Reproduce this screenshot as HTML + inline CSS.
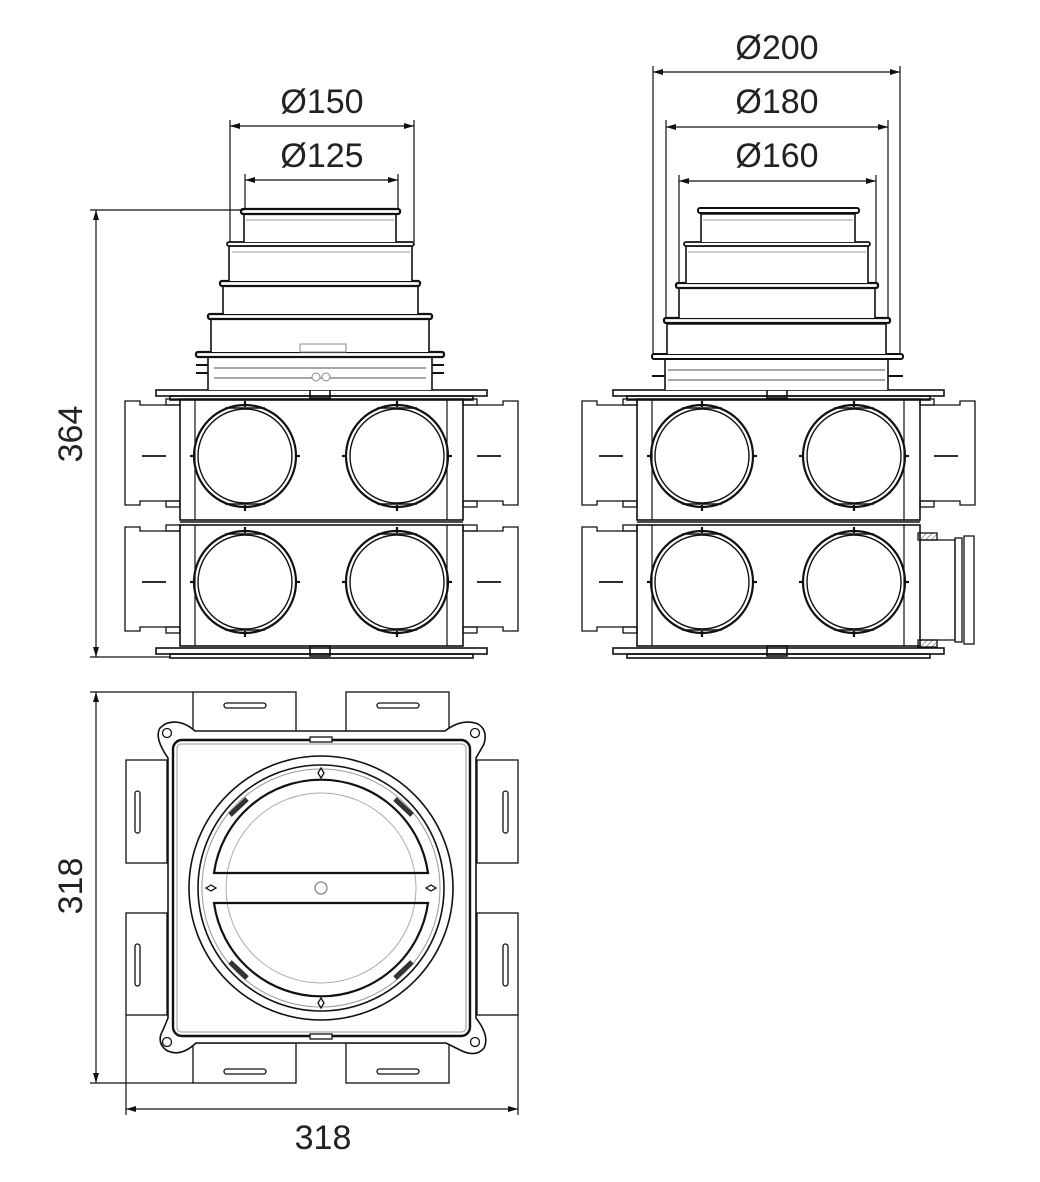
<!DOCTYPE html>
<html><head><meta charset="utf-8"><style>
html,body{margin:0;padding:0;background:#fff}
svg{display:block}
text{font-family:"Liberation Sans","DejaVu Sans",sans-serif;font-size:34px;fill:#222}
</style></head><body>
<svg width="1040" height="1182" viewBox="0 0 1040 1182" xmlns="http://www.w3.org/2000/svg">
<defs>
<marker id="a" viewBox="0 0 10 6" refX="10" refY="3" markerWidth="10" markerHeight="6" orient="auto-start-reverse" markerUnits="userSpaceOnUse"><path d="M0,0L10,3L0,6z" fill="#111"/></marker>
<pattern id="h" width="4" height="4" patternUnits="userSpaceOnUse" patternTransform="rotate(45)"><line x1="0" y1="0" x2="0" y2="4" stroke="#444" stroke-width="1"/></pattern>
<g id="row" fill="none" stroke="#111">
  <rect x="0" y="0" width="283" height="121" stroke-width="1.6"/>
  <line x1="15" y1="0" x2="15" y2="121" stroke-width="1.2"/>
  <line x1="267" y1="0" x2="267" y2="121" stroke-width="1.2"/>
  <circle cx="65" cy="57" r="51" stroke-width="2.2"/>
  <circle cx="65" cy="57" r="47" stroke-width="1.4"/>
  <circle cx="217" cy="57" r="51" stroke-width="2.2"/>
  <circle cx="217" cy="57" r="47" stroke-width="1.4"/>
  <g stroke-width="2.2">
  <line x1="65" y1="2" x2="65" y2="8"/><line x1="65" y1="106" x2="65" y2="112"/>
  <line x1="217" y1="2" x2="217" y2="8"/><line x1="217" y1="106" x2="217" y2="112"/>
  <line x1="10" y1="57" x2="14" y2="57"/><line x1="116" y1="57" x2="120" y2="57"/>
  <line x1="162" y1="57" x2="166" y2="57"/><line x1="268" y1="57" x2="272" y2="57"/>
  </g>
  <line x1="45" y1="9" x2="85" y2="9" stroke-width="1.6"/><line x1="45" y1="105" x2="85" y2="105" stroke-width="1.6"/>
  <line x1="197" y1="9" x2="237" y2="9" stroke-width="1.6"/><line x1="197" y1="105" x2="237" y2="105" stroke-width="1.6"/>
</g>
<g id="lsp" fill="none" stroke="#111" stroke-width="1.3">
  <path d="M0,6 H-40 V2 H-55 V106 H-40 V102 H0"/>
  <line x1="-38" y1="57" x2="-14" y2="57" stroke-width="1.8"/>
  <rect x="-14" y="0" width="14" height="6"/><rect x="-14" y="102" width="14" height="6"/>
</g>
<g id="rsp" fill="none" stroke="#111" stroke-width="1.3">
  <path d="M283,6 H323 V2 H338 V106 H323 V102 H283"/>
  <line x1="297" y1="57" x2="321" y2="57" stroke-width="1.8"/>
  <rect x="283" y="0" width="14" height="6"/><rect x="283" y="102" width="14" height="6"/>
</g>
<g id="plate" fill="none" stroke="#111" stroke-width="1.6">
  <rect x="-24" y="0" width="331" height="6"/>
  <rect x="-10" y="6" width="303" height="4"/>
  <rect x="130" y="-2" width="20" height="10"/>
</g>
</defs>

<!-- LEFT FRONT VIEW -->
<g transform="translate(180,399)"><use href="#row"/><use href="#lsp"/><use href="#rsp"/></g>
<g transform="translate(180,525)"><use href="#row"/><use href="#lsp"/><use href="#rsp"/></g>
<g transform="translate(180,390)"><use href="#plate"/></g>
<g transform="translate(180,648)"><use href="#plate"/></g>
<line x1="180" y1="522" x2="463" y2="522" stroke="#111" stroke-width="1.6"/>
<g fill="#fff" stroke="#111">
  <path d="M208,390 V356 H432 V390" stroke-width="1.6"/>
  <rect x="196" y="352" width="248" height="5" rx="2" stroke-width="2.2"/>
  <line x1="214" y1="368" x2="426" y2="368" stroke="#888" stroke-width="1.5"/>
  <line x1="214" y1="378" x2="426" y2="378" stroke="#888" stroke-width="1.5"/>
  <line x1="196" y1="365" x2="208" y2="365" stroke-width="2"/><line x1="432" y1="365" x2="444" y2="365" stroke-width="2"/>
  <line x1="196" y1="373" x2="208" y2="373" stroke-width="2"/><line x1="432" y1="373" x2="444" y2="373" stroke-width="2"/>
  <circle cx="316" cy="377" r="4" stroke="#888"/><circle cx="326" cy="377" r="4" stroke="#888"/>
  <path d="M211,352 V318 H429 V352" stroke-width="1.6"/>
  <rect x="208" y="314" width="224" height="5" rx="2" stroke-width="2.2"/>
  <rect x="300" y="344" width="46" height="8" stroke="#888"/>
  <path d="M223,314 V285 H418 V314" stroke-width="1.6"/>
  <rect x="220" y="281" width="200" height="5" rx="2" stroke-width="2.2"/>
  <path d="M229,281 V246 H412 V281" stroke-width="1.6"/>
  <rect x="227" y="242" width="187" height="4" rx="2" stroke-width="1.8"/>
  <line x1="232" y1="252" x2="410" y2="252" stroke="#999"/>
  <path d="M244,242 V214 H396 V242" stroke-width="1.6"/>
  <rect x="241" y="209" width="159" height="5" rx="2" stroke-width="2.2"/>
  <line x1="246" y1="220" x2="394" y2="220" stroke="#999"/>
</g>
<!-- left dims -->
<g stroke="#111" stroke-width="1.2" fill="none">
  <line x1="230" y1="120" x2="230" y2="242"/><line x1="414" y1="120" x2="414" y2="242"/>
  <line x1="230" y1="126" x2="414" y2="126" marker-start="url(#a)" marker-end="url(#a)"/>
  <line x1="245" y1="174" x2="245" y2="210"/><line x1="398" y1="174" x2="398" y2="210"/>
  <line x1="245" y1="180" x2="398" y2="180" marker-start="url(#a)" marker-end="url(#a)"/>
  <line x1="90" y1="210" x2="244" y2="210"/><line x1="90" y1="657" x2="170" y2="657"/>
  <line x1="96" y1="210" x2="96" y2="657" marker-start="url(#a)" marker-end="url(#a)"/>
</g>
<text x="322" y="113" text-anchor="middle">Ø150</text>
<text x="322" y="167" text-anchor="middle">Ø125</text>
<text transform="translate(82,434) rotate(-90)" text-anchor="middle">364</text>

<!-- RIGHT FRONT VIEW -->
<g transform="translate(637,399)"><use href="#row"/><use href="#lsp"/><use href="#rsp"/></g>
<g transform="translate(637,525)"><use href="#row"/><use href="#lsp"/></g>
<g transform="translate(637,390)"><use href="#plate"/></g>
<g transform="translate(637,648)"><use href="#plate"/></g>
<line x1="637" y1="522" x2="920" y2="522" stroke="#111" stroke-width="1.6"/>
<g fill="none" stroke="#111" stroke-width="1.3">
  <rect x="918" y="533" width="19" height="7" fill="url(#h)"/>
  <rect x="918" y="640" width="19" height="7" fill="url(#h)"/>
  <path d="M920,540 H955 V640 H920"/>
  <rect x="955" y="538" width="7" height="104"/>
  <rect x="964" y="536" width="10" height="108"/>
</g>
<g fill="#fff" stroke="#111">
  <path d="M665,390 V358 H888 V390" stroke-width="1.6"/>
  <rect x="652" y="354" width="251" height="5" rx="2" stroke-width="2"/>
  <line x1="668" y1="370" x2="885" y2="370" stroke="#888" stroke-width="1.5"/>
  <line x1="668" y1="380" x2="885" y2="380" stroke="#888" stroke-width="1.5"/>
  <line x1="652" y1="376" x2="665" y2="376" stroke-width="2"/><line x1="888" y1="376" x2="903" y2="376" stroke-width="2"/>
  <path d="M667,354 V324 H886 V354" stroke-width="1.6"/>
  <rect x="664" y="318" width="226" height="5" rx="2" stroke-width="2.2"/>
  <path d="M679,318 V288 H875 V318" stroke-width="1.6"/>
  <rect x="676" y="283" width="202" height="5" rx="2" stroke-width="2.2"/>
  <path d="M686,283 V246 H868 V283" stroke-width="1.6"/>
  <rect x="684" y="242" width="186" height="4" rx="2" stroke-width="1.8"/>
  <line x1="688" y1="252" x2="866" y2="252" stroke="#999"/>
  <path d="M701,242 V214 H855 V242" stroke-width="1.6"/>
  <rect x="698" y="208" width="161" height="5" rx="2" stroke-width="2"/>
  <line x1="703" y1="220" x2="853" y2="220" stroke="#999"/>
</g>
<g stroke="#111" stroke-width="1.2" fill="none">
  <line x1="653" y1="66" x2="653" y2="354"/><line x1="900" y1="66" x2="900" y2="354"/>
  <line x1="653" y1="72" x2="900" y2="72" marker-start="url(#a)" marker-end="url(#a)"/>
  <line x1="666" y1="120" x2="666" y2="318"/><line x1="888" y1="120" x2="888" y2="318"/>
  <line x1="666" y1="127" x2="888" y2="127" marker-start="url(#a)" marker-end="url(#a)"/>
  <line x1="679" y1="175" x2="679" y2="283"/><line x1="876" y1="175" x2="876" y2="283"/>
  <line x1="679" y1="181" x2="876" y2="181" marker-start="url(#a)" marker-end="url(#a)"/>
</g>
<text x="777" y="59" text-anchor="middle">Ø200</text>
<text x="777" y="113" text-anchor="middle">Ø180</text>
<text x="777" y="167" text-anchor="middle">Ø160</text>

<!-- TOP VIEW -->
<g fill="#fff" stroke="#111" stroke-width="1.3">
  <rect x="193" y="692" width="103" height="42"/><rect x="346" y="692" width="103" height="42"/>
  <rect x="193" y="1043" width="103" height="40"/><rect x="346" y="1043" width="103" height="40"/>
  <rect x="126" y="760" width="41" height="103"/><rect x="126" y="913" width="41" height="102"/>
  <rect x="477" y="760" width="41" height="103"/><rect x="477" y="913" width="41" height="102"/>
  <rect x="224" y="703" width="42" height="5" rx="2.5"/><rect x="377" y="703" width="42" height="5" rx="2.5"/>
  <rect x="224" y="1069" width="42" height="5" rx="2.5"/><rect x="377" y="1069" width="42" height="5" rx="2.5"/>
  <rect x="135" y="791" width="5" height="42" rx="2.5"/><rect x="135" y="944" width="5" height="42" rx="2.5"/>
  <rect x="503" y="791" width="5" height="42" rx="2.5"/><rect x="503" y="944" width="5" height="42" rx="2.5"/>
  <path d="M165,724 Q180,718 195,731 L445,731 Q462,718 478,724 Q488,730 484,744 L476,758 L476,1018 Q490,1036 484,1048 Q476,1058 460,1050 L446,1043 L196,1043 Q180,1058 166,1050 Q156,1042 163,1030 L168,1018 L168,758 Q154,738 160,728 Z" stroke-width="1.6"/>
  <circle cx="167" cy="733" r="4.5"/><circle cx="475" cy="733" r="4.5"/>
  <circle cx="167" cy="1042" r="4.5"/><circle cx="475" cy="1042" r="4.5"/>
  <rect x="173" y="740" width="297" height="296" rx="9" stroke-width="2.4"/>
  <rect x="177" y="744" width="289" height="288" rx="4" stroke="#999" stroke-width="1"/>
  <rect x="310" y="737" width="22" height="5"/><rect x="310" y="1034" width="22" height="5"/>
  <circle cx="321" cy="888" r="132" stroke-width="1.6"/>
  <circle cx="321" cy="888" r="123" stroke-width="1.6"/>
  <circle cx="321" cy="888" r="119" stroke="#999" stroke-width="1"/>
  <circle cx="321" cy="888" r="95" stroke="#aaa" stroke-width="1"/>
  <path d="M214,873 A108,108 0 0 1 428,873 Z" fill="none" stroke-width="2.2"/>
  <path d="M214,903 A108,108 0 0 0 428,903 Z" fill="none" stroke-width="2.2"/>
  <circle cx="321" cy="888" r="6" stroke="#888"/>
  <g stroke-width="5" stroke="#333"><line x1="230" y1="815" x2="247" y2="799"/><line x1="395" y1="799" x2="412" y2="815"/>
  <line x1="230" y1="962" x2="247" y2="978"/><line x1="395" y1="978" x2="412" y2="962"/></g>
  <path d="M321,768 l3,5 l-3,5 l-3,-5z M321,998 l3,5 l-3,5 l-3,-5z M206,888 l5,-3 l5,3 l-5,3z M426,888 l5,-3 l5,3 l-5,3z"/>
</g>
<g stroke="#111" stroke-width="1.2" fill="none">
  <line x1="90" y1="692" x2="193" y2="692"/><line x1="90" y1="1083" x2="193" y2="1083"/>
  <line x1="96" y1="692" x2="96" y2="1083" marker-start="url(#a)" marker-end="url(#a)"/>
  <line x1="126" y1="1015" x2="126" y2="1115"/><line x1="518" y1="1015" x2="518" y2="1115"/>
  <line x1="126" y1="1109" x2="518" y2="1109" marker-start="url(#a)" marker-end="url(#a)"/>
</g>
<text x="323" y="1149" text-anchor="middle">318</text>
<text transform="translate(82,886) rotate(-90)" text-anchor="middle">318</text>
</svg>
</body></html>
